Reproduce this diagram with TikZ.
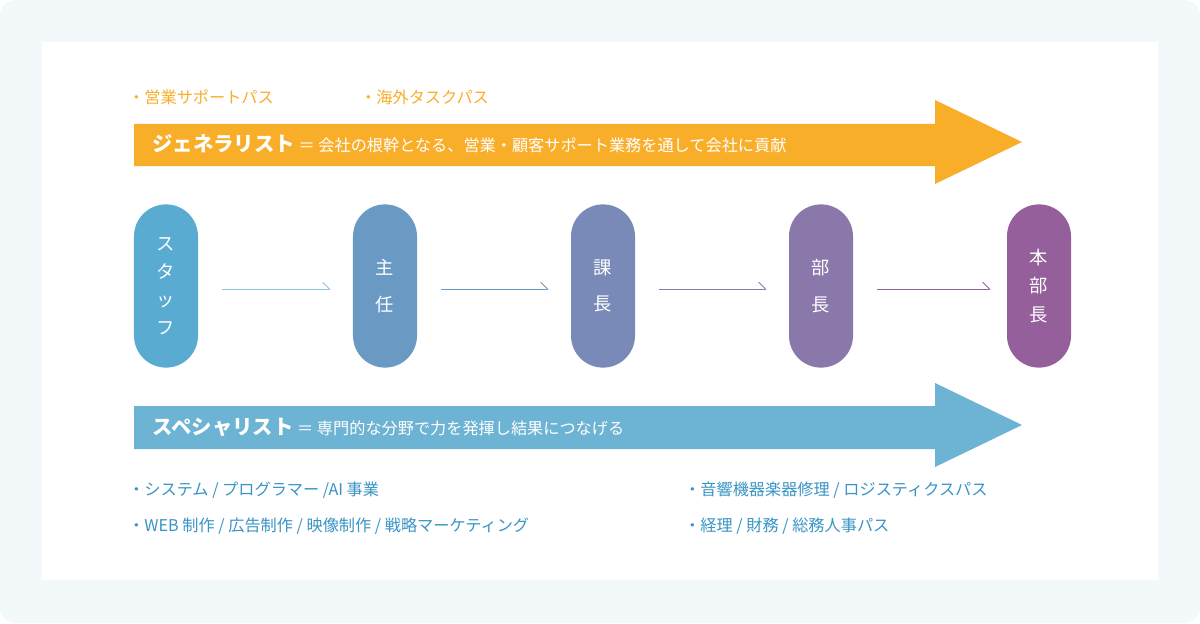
\documentclass[tikz,border=0pt]{standalone}
\usepackage{fontspec}
\setmainfont{Noto Sans CJK JP}
\usetikzlibrary{positioning,arrows.meta}
\definecolor{bgpale}{HTML}{F3F8FB}
\definecolor{genorange}{HTML}{F9AE2A}
\definecolor{specblue}{HTML}{6DB3D3}
\definecolor{listblue}{HTML}{3A94C5}
\definecolor{rankA}{HTML}{5AABD1}
\definecolor{rankB}{HTML}{6A9AC4}
\definecolor{rankC}{HTML}{7A8AB8}
\definecolor{rankD}{HTML}{8A78AB}
\definecolor{rankE}{HTML}{945F9B}
\begin{document}
\begin{tikzpicture}
  [x=0.025cm,y=-0.025cm,
    rank/.style={fill=#1,draw=none,rounded corners=0.8cm,minimum width=1.6cm,
      minimum height=4.08cm,text=white,font=\fontsize{13}{20}\selectfont,
      align=center,inner sep=0pt},
    stepline/.style={draw=#1,line width=0.6pt,-{Straight Barb[left,length=5pt,width=10pt]}},
    pathtxt/.style={anchor=west,inner sep=0pt,font=\fontsize{11.5}{14}\selectfont},
    bannertxt/.style={anchor=west,inner sep=0pt,text=white,font=\fontsize{11.5}{14}\selectfont}
  ]
  \fill[bgpale,rounded corners=0.4cm] (0,0) rectangle (1200,623);
  \fill[white] (42,42) rectangle (1158,580);

  % banners
  \fill[genorange] (134,124) -- (935,124) -- (935,100) -- (1022,142)
    -- (935,184) -- (935,166) -- (134,166) -- cycle;
  \fill[specblue] (134,406) -- (935,406) -- (935,383) -- (1022,425)
    -- (935,467) -- (935,449) -- (134,449) -- cycle;
  \node (gen) at (152,144) [bannertxt] {{\fontsize{14.5}{16}\selectfont\bfseries ジェネラリスト}\ ＝ 会社の根幹となる、営業・顧客サポート業務を通して会社に貢献};
  \node (spec) at (152,427) [bannertxt] {{\fontsize{14.5}{16}\selectfont\bfseries スペシャリスト}\ ＝ 専門的な分野で力を発揮し結果につなげる};

  \node (g1) at (128,97) [pathtxt,text=genorange] {・営業サポートパス};
  \node (g2) at (360,97) [pathtxt,text=genorange] {・海外タスクパス};
  \node (s1) at (128,490) [pathtxt,text=listblue] {・システム / プログラマー /AI 事業};
  \node (s2) at (128,526) [pathtxt,text=listblue] {・WEB 制作 / 広告制作 / 映像制作 / 戦略マーケティング};
  \node (s3) at (684,490) [pathtxt,text=listblue] {・音響機器楽器修理 / ロジスティクスパス};
  \node (s4) at (684,526) [pathtxt,text=listblue] {・経理 / 財務 / 総務人事パス};

  % ranks
  \node (staff) at (166,286) [rank=rankA] {ス\\タ\\ッ\\フ};
  \node (shunin) at (385,286) [rank=rankB] {主\\[6pt]任};
  \node (kacho) at (603,286) [rank=rankC] {課\\[6pt]長};
  \node (bucho) at (821,286) [rank=rankD] {部\\[6pt]長};
  \node (honbu) at (1039,286) [rank=rankE] {本\\部\\長};

  \draw[stepline=rankA!70] ([xshift=0.6cm,yshift=-0.08cm]staff.east) -- ([xshift=-0.55cm,yshift=-0.08cm]shunin.west);
  \draw[stepline=rankB] ([xshift=0.6cm,yshift=-0.08cm]shunin.east) -- ([xshift=-0.55cm,yshift=-0.08cm]kacho.west);
  \draw[stepline=rankD] ([xshift=0.6cm,yshift=-0.08cm]kacho.east) -- ([xshift=-0.55cm,yshift=-0.08cm]bucho.west);
  \draw[stepline=rankE] ([xshift=0.6cm,yshift=-0.08cm]bucho.east) -- ([xshift=-0.4cm,yshift=-0.08cm]honbu.west);
\end{tikzpicture}
\end{document}
